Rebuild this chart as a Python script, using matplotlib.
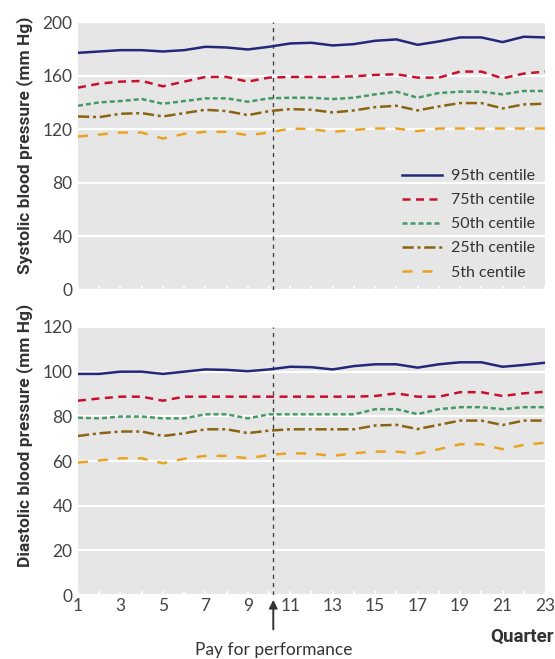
import matplotlib
matplotlib.use("Agg")
from matplotlib import pyplot as plt

quarters = list(range(1, 24))
pay_start = 10.2  # pay for performance introduced

centile_labels = ['95th centile', '75th centile', '50th centile', '25th centile', '5th centile']

sys95 = [177, 178, 179, 179, 178, 179, 181.5, 181, 179.5, 181.5, 184, 184.5, 182.5, 183.5, 186, 187, 183, 185.5, 188.5, 188.5, 185, 189, 188.5]
sys75 = [151, 154, 155.5, 156, 152, 155.5, 159, 159, 155.5, 158.5, 159, 159, 159, 159.5, 160.5, 161, 158.5, 158.5, 163, 163, 158, 161.5, 163]
sys50 = [137.5, 140, 141, 142.5, 139, 141, 143, 143, 140.5, 143, 143.5, 143.5, 142.5, 143.5, 146, 148, 143.5, 147, 148, 148, 146, 148.5, 148.5]
sys25 = [129.5, 129, 131.5, 132, 129.5, 132, 134.5, 133.5, 130.5, 133.5, 135, 134.5, 132.5, 134, 136.5, 137.5, 134, 137, 139.5, 139.5, 135.5, 138.5, 139]
sys5 = [114.5, 116, 117.5, 117.5, 113, 116.5, 118, 118, 115.5, 117.5, 120.5, 120, 118, 119.5, 120.5, 120.5, 118.5, 120.5, 120.5, 120.5, 120.5, 120.5, 120.5]

dia95 = [99, 99, 100, 100, 99, 100, 101, 100.8, 100.2, 101, 102.2, 102, 101, 102.5, 103.3, 103.3, 101.8, 103.3, 104.2, 104.2, 102.2, 103, 104]
dia75 = [87, 88, 88.8, 88.8, 87, 88.8, 88.8, 88.8, 88.8, 88.8, 88.8, 88.8, 88.8, 88.8, 89.1, 90.3, 88.8, 88.8, 90.8, 90.8, 89.1, 90.3, 91]
dia50 = [79.4, 79.1, 79.9, 79.9, 79.1, 79.1, 80.9, 80.9, 79.1, 80.9, 80.9, 80.9, 80.9, 80.9, 83.2, 83.2, 81, 83.2, 84.1, 84.1, 83.2, 84.1, 84.1]
dia25 = [71.2, 72.4, 73.2, 73.2, 71.2, 72.4, 74.2, 74.2, 72.5, 73.6, 74.2, 74.2, 74.2, 74.2, 75.9, 76.2, 74.3, 76.2, 78.1, 78.1, 76.1, 78.1, 78.1]
dia5 = [59.3, 60.2, 61.2, 61.2, 59, 61, 62.3, 62.3, 61.2, 62.7, 63.5, 63.3, 62.3, 63.5, 64.2, 64.2, 63.3, 65.3, 67.5, 67.5, 65.3, 67.2, 68.2]

colors = ['#23287a', '#c8102e', '#459a68', '#8a6410', '#e9a322']
styles = ['-', (0, (3.2, 2.2)), (0, (2.0, 1.2)), (0, (4.5, 1.5, 1.2, 1.5)), (0, (4, 4))]

plt.rcParams['font.family'] = ['Lato', 'DejaVu Sans']
tick_color = '#444444'
bg = '#e6e6e6'

fig = plt.figure(figsize=(5.55, 6.59), dpi=100)
ax1 = fig.add_axes([0.1405, 0.56, 0.8415, 0.4066])
ax2 = fig.add_axes([0.1405, 0.0971, 0.8415, 0.4067])


def style_axis(ax, ymax, step):
    ax.set_facecolor(bg)
    for s in ax.spines.values():
        s.set_visible(False)
    ax.set_xlim(1, 23)
    ax.set_ylim(0, ymax)
    ax.set_yticks(range(0, ymax + 1, step))
    ax.grid(axis='y', color='white', lw=1.6)
    ax.set_axisbelow(True)
    ax.tick_params(axis='y', length=0, labelsize=12.5, labelcolor=tick_color, pad=4)
    ax.set_xticks(quarters, minor=True)
    ax.tick_params(axis='x', which='minor', direction='in', length=3, color='white', width=1.2)
    ax.tick_params(axis='x', which='major', direction='in', length=3, color='white', width=1.2,
                   labelsize=12.5, labelcolor=tick_color, pad=2)
    ax.set_xticks(range(1, 24, 2))
    ax.axvline(pay_start, color='#444444', lw=1.0, ls=(0, (3, 3)), zorder=1)


style_axis(ax1, 200, 40)
style_axis(ax2, 120, 20)
ax1.tick_params(axis='x', labelbottom=False)

for vals, c, ls, lab in zip([sys95, sys75, sys50, sys25, sys5], colors, styles, centile_labels):
    ax1.plot(quarters, vals, color=c, ls=ls, lw=1.8, label=lab, zorder=3)
for vals, c, ls in zip([dia95, dia75, dia50, dia25, dia5], colors, styles):
    ax2.plot(quarters, vals, color=c, ls=ls, lw=1.8, zorder=3)

leg = ax1.legend(loc='lower right', frameon=False, prop={'size': 11.5},
                 handlelength=2.5, handletextpad=0.55, labelspacing=0.62, borderaxespad=0.25,
                 bbox_to_anchor=(1.0, 0.0))
for t in leg.get_texts():
    t.set_color('#333333')

label_font = ['Roboto', 'DejaVu Sans']
fig.text(0.045, 0.78, 'Systolic blood pressure (mm Hg)', rotation=90, ha='center', va='center',
         fontsize=12.5, fontweight='bold', color='#333333', family=label_font)
fig.text(0.045, 0.34, 'Diastolic blood pressure (mm Hg)', rotation=90, ha='center', va='center',
         fontsize=12.5, fontweight='bold', color='#333333', family=label_font)
fig.text(0.997, 1 - 637 / 659, 'Quarter', ha='right', va='center', fontsize=13.5,
         fontweight='bold', color='#333333', family=label_font)

ax2.annotate('Pay for performance', xy=(pay_start, -0.018), xycoords=('data', 'axes fraction'),
             xytext=(pay_start, -0.205), textcoords=('data', 'axes fraction'),
             ha='center', va='center', fontsize=12.5, color='#333333',
             annotation_clip=False,
             arrowprops=dict(arrowstyle='-|>', color='#333333', lw=1.4, shrinkA=7, shrinkB=0,
                             mutation_scale=12))

fig.savefig('out.png', dpi=100)
